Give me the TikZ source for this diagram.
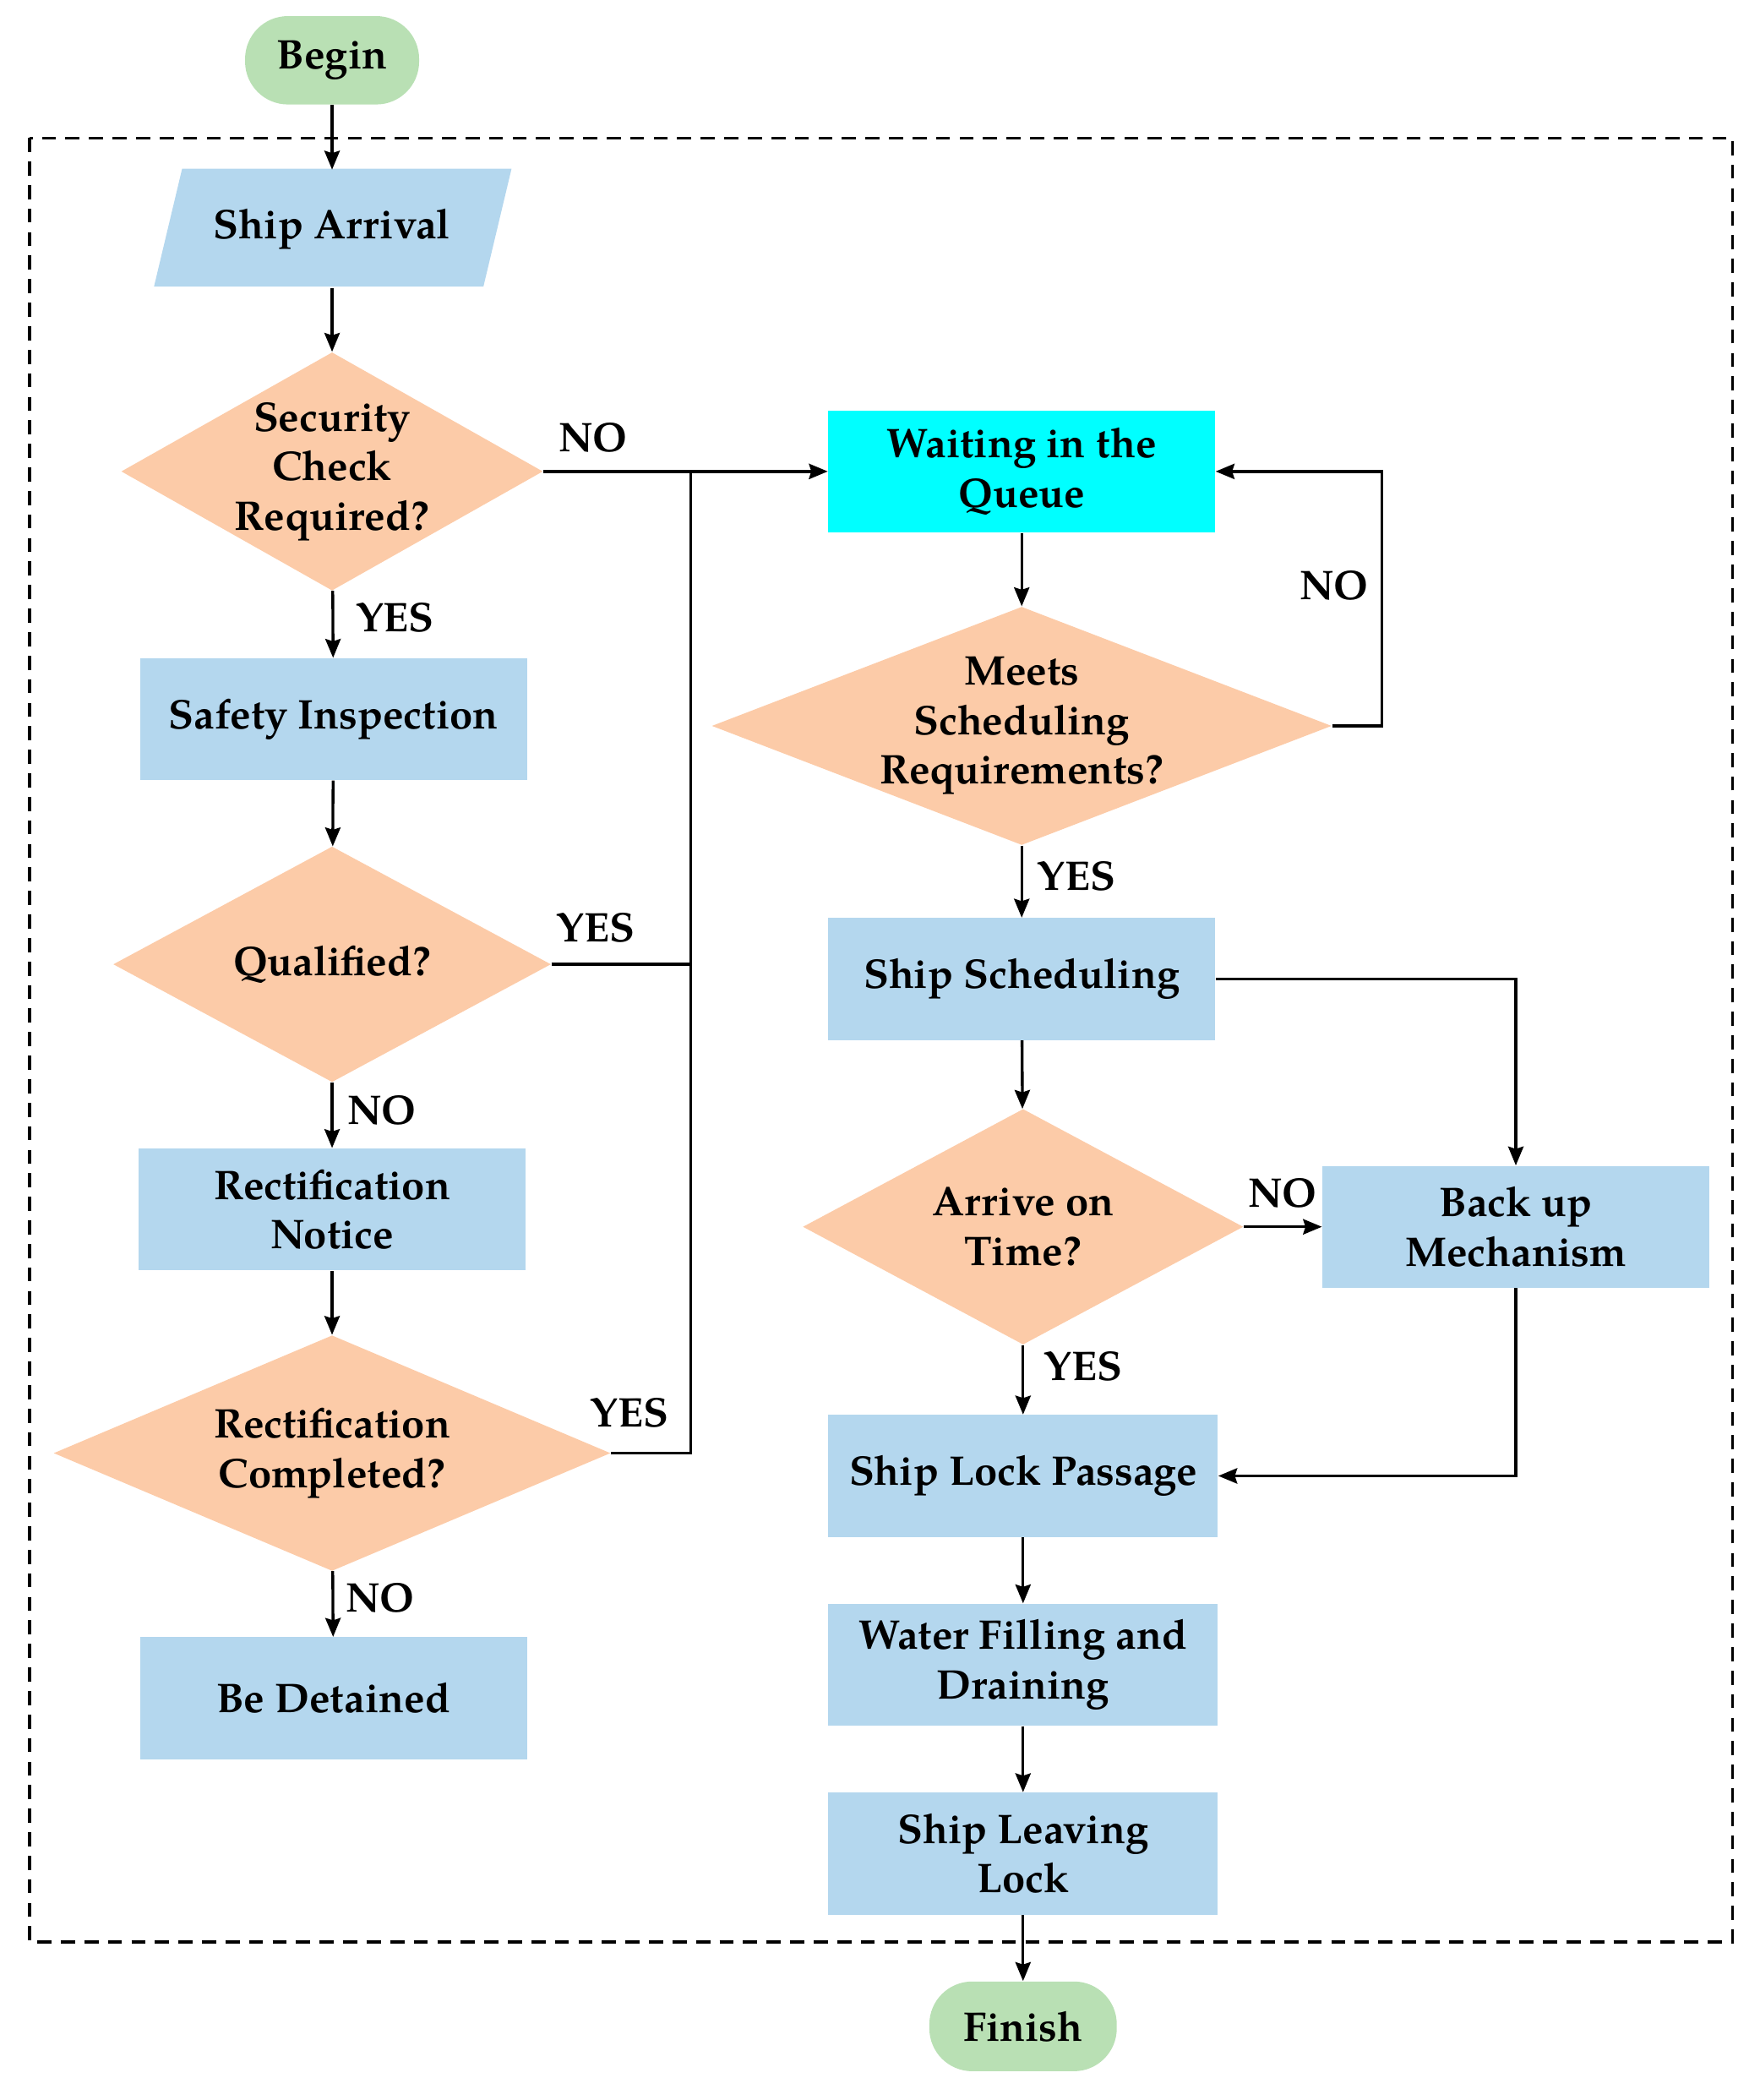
\documentclass[tikz,border=0pt]{standalone}
\usepackage{fontspec}
\setmainfont{TeX Gyre Pagella}
\usetikzlibrary{shapes.geometric,arrows.meta}
\definecolor{boxblue}{RGB}{180,215,238}
\definecolor{dpeach}{RGB}{252,203,168}
\definecolor{tgreen}{RGB}{185,224,180}
\definecolor{qcyan}{RGB}{0,255,255}
\begin{document}
\begin{tikzpicture}[x=0.02cm,y=-0.02cm,
  txt/.style={font=\fontsize{17.6}{21}\selectfont\bfseries},
  proc/.style={fill=boxblue, minimum width=5.78cm, minimum height=1.82cm, align=center, txt, inner sep=0pt},
  dia/.style={diamond, fill=dpeach, inner sep=0pt},
  dtext/.style={align=center, txt, inner sep=0pt},
  term/.style={fill=tgreen, rounded corners=0.64cm, minimum width=2.6cm, minimum height=1.32cm, txt, inner sep=0pt},
  conn/.style={line width=1.2pt, -{Stealth[length=8pt,width=6.5pt,inset=1pt]}},
  wire/.style={line width=1.2pt},
  lab/.style={txt, inner sep=0pt},
  frame/.style={line width=1.2pt, dash pattern=on 6pt off 4pt}
]
\useasboundingbox (0,0) rectangle (1314,1568);
\draw[frame] (22,103) rectangle (1294,1450);

% left column
\node[term] (begin) at (248,45) {Begin};
\fill[boxblue] (136,126) -- (382,126) -- (361,214) -- (115,214) -- cycle;
\node[txt, minimum width=4cm, minimum height=1.76cm, inner sep=0pt] (arr) at (248,171) {Ship Arrival};
\node[dia, minimum width=6.3cm, minimum height=3.56cm,
  label={[dtext]center:Security\\Check\\Required?}] (sec) at (248,352) {};
\node[proc] (safe) at (249,537) {Safety Inspection};
\node[dia, minimum width=6.54cm, minimum height=3.52cm,
  label={[dtext]center:Qualified?}] (qual) at (248,720) {};
\node[proc] (note) at (248,903) {Rectification\\Notice};
\node[dia, minimum width=8.32cm, minimum height=3.52cm,
  label={[dtext]center:Rectification\\Completed?}] (rc) at (248,1085) {};
\node[proc] (det) at (249,1268) {Be Detained};

% right column
\node[proc, fill=qcyan] (wait) at (763,352) {Waiting in the\\Queue};
\node[dia, minimum width=9.26cm, minimum height=3.56cm,
  label={[dtext]center:Meets\\Scheduling\\Requirements?}] (meet) at (763,542) {};
\node[proc] (sched) at (763,731) {Ship Scheduling};
\node[dia, minimum width=6.58cm, minimum height=3.52cm,
  label={[dtext]center:Arrive on\\Time?}] (ontime) at (764,916) {};
\node[proc] (back) at (1132,916) {Back up\\Mechanism};
\node[proc, minimum width=5.82cm] (lock) at (764,1102) {Ship Lock Passage};
\node[proc, minimum width=5.82cm] (water) at (764,1243) {Water Filling and\\Draining};
\node[proc, minimum width=5.82cm] (leave) at (764,1384) {Ship Leaving\\Lock};
\node[term, minimum width=2.8cm, minimum height=1.34cm] (fin) at (764,1513) {Finish};

\coordinate (j1) at (516,352);
\coordinate (j2) at (516,720);
\coordinate (j3) at (516,1085);

% connectors
\draw[conn] (begin) -- (arr);
\draw[conn] (arr) -- (sec);
\draw[conn] (sec) -- (safe);
\draw[conn] (safe) -- (qual);
\draw[conn] (qual) -- (note);
\draw[conn] (note) -- (rc);
\draw[conn] (rc) -- (det);
\draw[conn] (sec.east) -- (wait.west);
\draw[wire] (qual.east) -- (j2) -- (j1);
\draw[wire] (rc.east) -- (j3) -- (j2);
\draw[conn] (wait) -- (meet);
\draw[conn] (meet.east) -- ++(37,0) |- (wait.east);
\draw[conn] (meet) -- (sched);
\draw[conn] (sched.east) -| (back.north);
\draw[conn] (sched) -- (ontime);
\draw[conn] (ontime.east) -- (back.west);
\draw[conn] (ontime) -- (lock);
\draw[conn] (back.south) |- (lock.east);
\draw[conn] (lock) -- (water);
\draw[conn] (water) -- (leave);
\draw[conn] (leave) -- (fin);

% labels
\node[lab] (l1) at (443,327) {NO};
\node[lab] (l2) at (295,461) {YES};
\node[lab] (l3) at (445,693) {YES};
\node[lab] (l4) at (285,829) {NO};
\node[lab] (l5) at (470,1055) {YES};
\node[lab] (l6) at (284,1193) {NO};
\node[lab] (l7) at (996,437) {NO};
\node[lab] (l8) at (804,654) {YES};
\node[lab] (l9) at (958,891) {NO};
\node[lab] (l10) at (809,1020) {YES};
\end{tikzpicture}
\end{document}
